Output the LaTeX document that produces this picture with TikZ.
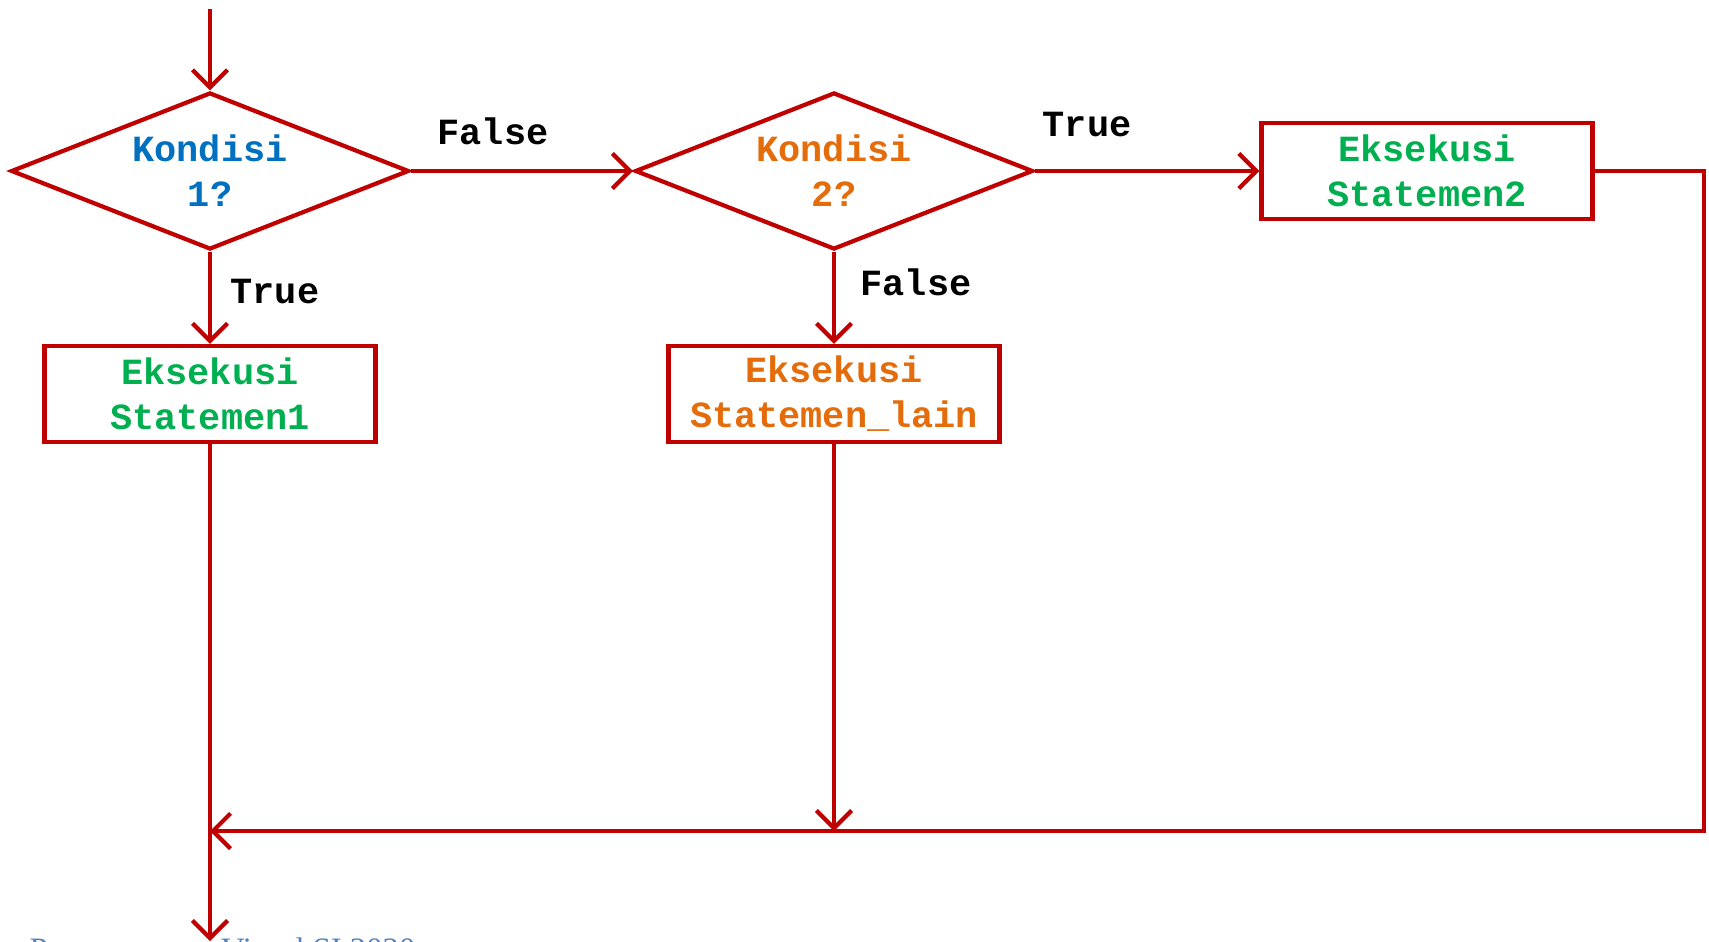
\documentclass[tikz,border=0pt]{standalone}
\usepackage{fontspec}
\setmainfont{Liberation Serif}
\setmonofont{Liberation Mono}
\usetikzlibrary{shapes.geometric,arrows.meta}
\definecolor{flowred}{HTML}{C00000}
\definecolor{condblue}{HTML}{0070C0}
\definecolor{condorange}{HTML}{E46C0A}
\definecolor{execgreen}{HTML}{00B050}
\definecolor{footblue}{HTML}{4F81BD}
\begin{document}
\begin{tikzpicture}
[textdecorate/.style={font=\ttfamily\bfseries\fontsize{10.5}{12.8}\selectfont,align=center},%
  decisiondecorate/.style={shape=diamond,draw=flowred,line width=1.2pt,inner sep=0pt,
    aspect=2.8,minimum width=3.98cm,minimum height=1.57cm,textdecorate},%
  processdecorate/.style={shape=rectangle,draw=flowred,line width=1.2pt,inner sep=0pt,
    minimum width=3.31cm,minimum height=0.96cm,textdecorate},%
  linedecorate/.style={draw=flowred,line width=1.2pt,-{Straight Barb[length=5pt,width=10pt]}},%
  labeldecorate/.style={textdecorate,text=black}]
\useasboundingbox (0,0) rectangle (17.09,-9.41);
%% decisions and statements
\node (d1) at (2.10,-1.71) [decisiondecorate,text=condblue] {Kondisi\\1?};
\node (d2) at (8.34,-1.71) [decisiondecorate,text=condorange] {Kondisi\\2?};
\node (b1) at (2.10,-3.94) [processdecorate,text=execgreen] {Eksekusi\\Statemen1};
\node (b2) at (14.27,-1.71) [processdecorate,text=execgreen] {Eksekusi\\Statemen2};
\node (b3) at (8.34,-3.94) [processdecorate,text=condorange] {Eksekusi\\Statemen\_lain};
%% free ends and corners
\foreach \nodename/\x/\y in {start/2.10/-0.09, corner1/17.04/-1.71, corner2/17.04/-8.31,
  join1/2.10/-8.31, join2/8.34/-8.31, finish/2.10/-9.41} {
  \coordinate (\nodename) at (\x,\y);
}
%% connectors
\path
\foreach \startnode/\endnode in {start/d1, d1/d2, d2/b2, d1/b1, d2/b3, b3/join2, b1/finish} {
  (\startnode) edge[linedecorate] (\endnode)
};
\draw[linedecorate] (b2.east) -- (corner1) -- (corner2) -- (join1);
%% branch labels
\node (f1) at (4.93,-1.31) [labeldecorate] {False};
\node (t1) at (2.75,-2.92) [labeldecorate] {True};
\node (t2) at (10.87,-1.25) [labeldecorate] {True};
\node (f2) at (9.16,-2.82) [labeldecorate] {False};
%% footer
\node (foot) at (0.29,-9.60) [anchor=base west,inner sep=0pt,text=footblue,
  font=\fontsize{9.3}{11}\selectfont] {Pemrograman Visual SI 2020};
\end{tikzpicture}
\end{document}
